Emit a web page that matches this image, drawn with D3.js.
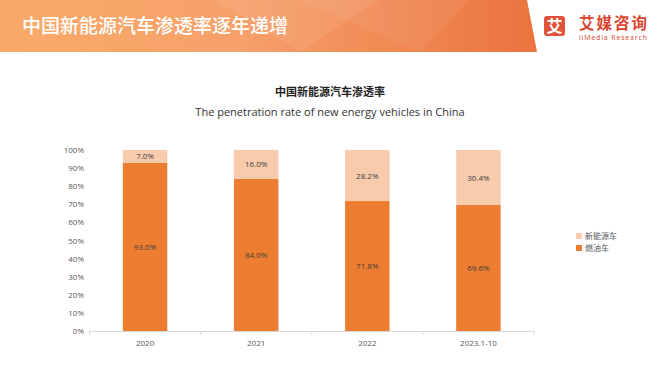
<!DOCTYPE html>
<html>
<head>
<meta charset="utf-8">
<script src="https://cdn.jsdelivr.net/npm/d3@7"></script>
<style>
  body { margin: 0; background: #fff; }
  svg { display: block; font-family: "Noto Sans CJK SC", "Open Sans", sans-serif; }
</style>
</head>
<body>
<div id="chart"></div>
<script>
// data
const years = ['2020', '2021', '2022', '2023.1-10'];
const fuelShare = [93.0, 84.0, 71.8, 69.6];
const nevShare = [7.0, 16.0, 28.2, 30.4];
const yTicks = [0, 10, 20, 30, 40, 50, 60, 70, 80, 90, 100];
const seriesNames = ['新能源车', '燃油车'];

const width = 660, height = 372;
const svg = d3.select('#chart').append('svg')
    .attr('width', width)
    .attr('height', height);

// header band
const defs = svg.append('defs');
const grad = defs.append('linearGradient').attr('id', 'hdr')
    .attr('x1', '0%').attr('x2', '100%').attr('y1', '0%').attr('y2', '0%');
grad.append('stop').attr('offset', '0%').attr('stop-color', '#F9AA68');
grad.append('stop').attr('offset', '45%').attr('stop-color', '#F6A06A');
grad.append('stop').attr('offset', '100%').attr('stop-color', '#EB733E');

svg.append('path')
    .attr('d', 'M0,0 L527,0 L537,52 L0,52 Z')
    .attr('fill', 'url(#hdr)');
// faint facets
svg.append('path')
    .attr('d', 'M215,0 L300,52 L380,0 Z')
    .attr('fill', '#fff').attr('opacity', 0.08);
svg.append('path')
    .attr('d', 'M300,0 L420,52 L470,0 Z')
    .attr('fill', '#fff').attr('opacity', 0.06);

svg.append('text')
    .attr('x', 22).attr('y', 33)
    .attr('fill', '#fff')
    .style('font-size', '19px')
    .style('font-weight', 500)
    .text('中国新能源汽车渗透率逐年递增');

// logo
svg.append('rect')
    .attr('x', 544).attr('y', 16).attr('width', 21).attr('height', 20)
    .attr('rx', 3).attr('fill', '#E0533A');
svg.append('text')
    .attr('x', 554.5).attr('y', 32).attr('text-anchor', 'middle')
    .attr('fill', '#fff').style('font-size', '16px').style('font-weight', 700)
    .text('艾');
svg.append('text')
    .attr('x', 579).attr('y', 29)
    .attr('fill', '#D9452E').style('font-size', '15.5px').style('font-weight', 700)
    .attr('textLength', 68)
    .text('艾媒咨询');
svg.append('text')
    .attr('x', 579).attr('y', 40)
    .attr('fill', '#D9452E').style('font-size', '7px')
    .style('font-family', '"Open Sans", sans-serif')
    .attr('textLength', 68)
    .text('iiMedia Research');

// chart titles
svg.append('text')
    .attr('x', 330).attr('y', 96).attr('text-anchor', 'middle')
    .attr('fill', '#222').style('font-size', '11px').style('font-weight', 700)
    .text('中国新能源汽车渗透率');
svg.append('text')
    .attr('x', 330).attr('y', 116).attr('text-anchor', 'middle')
    .attr('fill', '#333').style('font-size', '11px')
    .style('font-family', '"Open Sans", sans-serif')
    .text('The penetration rate of new energy vehicles in China');

// scales
const x = d3.scaleBand().domain(years).range([89.5, 534]).paddingInner(0.6).paddingOuter(0.3);
const y = d3.scaleLinear().domain([0, 100]).range([331, 150]);

const colors = { fuel: '#ED7D31', nev: '#F8CBAD' };

// y axis
const yAxis = d3.axisLeft(y).tickValues(yTicks).tickFormat(d => d + '%').tickSize(0).tickPadding(5);
const gy = svg.append('g').attr('transform', 'translate(89,0)').call(yAxis);
gy.select('.domain').remove();
gy.selectAll('text').attr('fill', '#595959').style('font-size', '8px')
    .style('font-family', '"Open Sans", sans-serif');

// bars
const barData = years.map((yr, i) => ({ yr: yr, fuel: fuelShare[i], nev: nevShare[i] }));
const g = svg.append('g');
g.selectAll('.fuel').data(barData).enter().append('rect')
    .attr('class', 'fuel')
    .attr('x', d => x(d.yr)).attr('width', x.bandwidth())
    .attr('y', d => y(d.fuel)).attr('height', d => y(0) - y(d.fuel))
    .attr('fill', colors.fuel);
g.selectAll('.nev').data(barData).enter().append('rect')
    .attr('class', 'nev')
    .attr('x', d => x(d.yr)).attr('width', x.bandwidth())
    .attr('y', d => y(d.fuel + d.nev)).attr('height', d => y(d.fuel) - y(d.fuel + d.nev))
    .attr('fill', colors.nev);

// value labels
const lblStyle = sel => sel.attr('text-anchor', 'middle').attr('fill', '#404040')
    .style('font-size', '8px').style('font-family', '"Open Sans", sans-serif');
g.selectAll('.fl').data(barData).enter().append('text')
    .attr('x', d => x(d.yr) + x.bandwidth() / 2)
    .attr('y', d => y(d.fuel / 2) + 3)
    .text(d => d.fuel.toFixed(1) + '%')
    .call(lblStyle);
g.selectAll('.nl').data(barData).enter().append('text')
    .attr('x', d => x(d.yr) + x.bandwidth() / 2)
    .attr('y', d => y(d.fuel + d.nev / 2) + 3)
    .text(d => d.nev.toFixed(1) + '%')
    .call(lblStyle);

// x axis
const xAxis = d3.axisBottom(x).tickSize(0).tickPadding(9);
const gx = svg.append('g').attr('transform', 'translate(0,331)').call(xAxis);
gx.select('.domain').attr('stroke', '#D9D9D9');
gx.selectAll('text').attr('fill', '#595959').style('font-size', '8px')
    .style('font-family', '"Open Sans", sans-serif');
// boundary ticks
const bounds = [89.5].concat(years.map(d => x(d) + x.bandwidth() + x.step() * 0.3));
gx.selectAll('.bt').data(bounds).enter().append('line')
    .attr('x1', d => d).attr('x2', d => d).attr('y1', 0).attr('y2', 4)
    .attr('stroke', '#D9D9D9');

// legend
const legend = svg.append('g').attr('transform', 'translate(576,233)');
const legColors = [colors.nev, colors.fuel];
seriesNames.forEach((n, i) => {
    legend.append('rect').attr('x', 0).attr('y', i * 12).attr('width', 6).attr('height', 6)
        .attr('fill', legColors[i]);
    legend.append('text').attr('x', 9).attr('y', i * 12 + 6)
        .attr('fill', '#595959').style('font-size', '8px')
        .text(n);
});
</script>
</body>
</html>
